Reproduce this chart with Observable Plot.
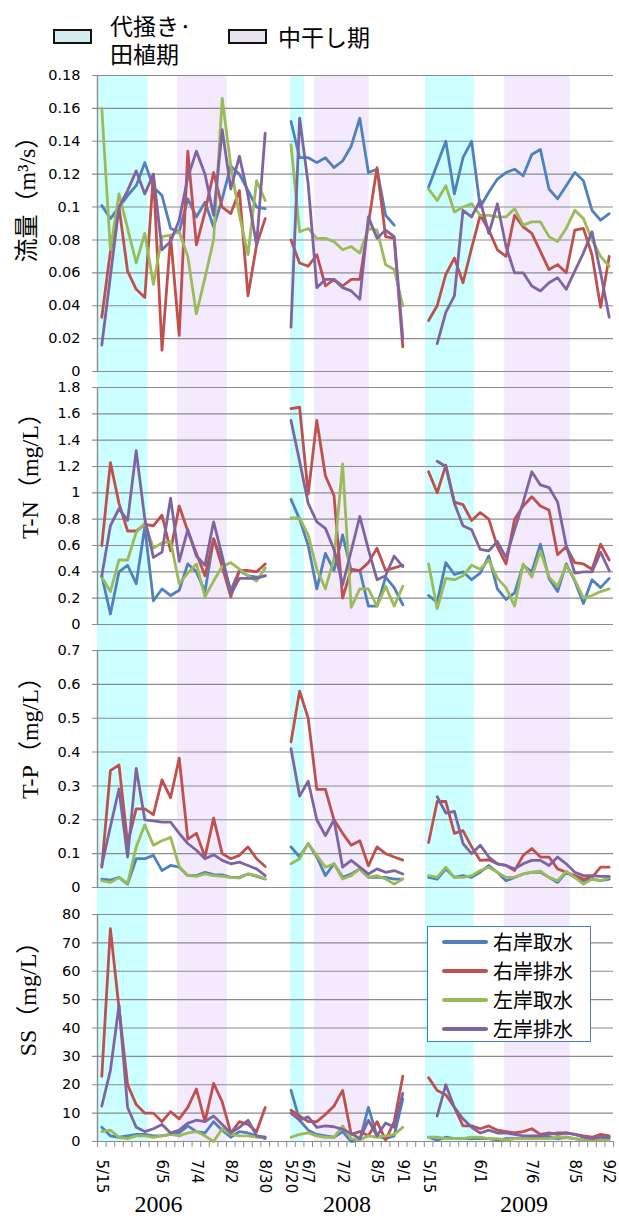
<!DOCTYPE html>
<html><head><meta charset="utf-8">
<script src="https://cdn.jsdelivr.net/npm/d3@7"></script>
<script src="https://cdn.jsdelivr.net/npm/@observablehq/plot@0.6"></script>
<style>
body{margin:0;background:#fff;}
#wrap{position:relative;width:619px;height:1216px;overflow:hidden;font-family:"Noto Sans CJK JP",sans-serif;color:#000;}
#wrap svg{overflow:visible;}
</style></head><body><div id="wrap"></div>
<script>
// ---------- data ----------
const seriesNames = ["右岸取水", "右岸排水", "左岸取水", "左岸排水"];
const seriesColors = ["#4F81BD", "#C0504D", "#9BBB59", "#8064A2"];
const periodNames = ["代掻き·\n田植期", "中干し期"];
const periodColors = ["#ccffff", "#f3ebfd"];
const periodSwatch = ["#d4ecf0", "#e8e3ef"];

// category positions: 2006 = 0..19, gap, 2008 = 22..35, gap, 2009 = 38..59
const nCategories = 60;
const tickPositions = [0, 7, 11, 15, 19, 22, 24, 28, 32, 35, 38, 44, 50, 55, 59];
const tickLabels = ["5/15", "6/5", "7/4", "8/2", "8/30", "5/20", "6/7", "7/2", "8/5", "9/1", "5/15", "6/1", "7/6", "8/5", "9/2"];
const yearLabels = ["2006", "2008", "2009"];
const yearPositions = [6.6, 28.5, 49.1];

// shaded periods (category units)
const plantStart = [-0.5, 21.95, 37.65];
const plantEnd = [5.4, 23.55, 43.3];
const dryStart = [8.8, 24.75, 46.85];
const dryEnd = [14.6, 31.1, 54.5];

// 流量 (m3/s)
const flowRI = [0.101,0.093,0.100,0.107,0.113,0.127,0.112,0.107,0.087,0.085,0.105,0.094,0.103,0.088,0.105,0.125,0.120,0.110,0.100,0.099, null,null,
  0.152,0.130,0.130,0.127,0.130,0.124,0.128,0.137,0.154,0.121,0.123,0.095,0.089,null, null,null,
  0.112,0.126,0.140,0.108,0.130,0.140,0.100,0.109,0.117,0.121,0.123,0.119,0.132,0.135,0.111,0.105,0.113,0.121,0.116,0.098,0.092,0.096];
const flowRD = [0.033,0.073,0.100,0.061,0.050,0.045,0.120,0.013,0.082,0.022,0.134,0.077,0.097,0.121,0.100,0.096,0.110,0.046,0.077,0.093, null,null,
  0.080,0.066,0.064,0.071,0.052,0.056,0.052,0.056,0.056,0.090,0.124,0.082,0.081,0.015, null,null,
  0.031,0.040,0.059,0.069,0.054,0.075,0.095,0.086,0.074,0.070,0.095,0.088,0.084,0.073,0.062,0.065,0.060,0.086,0.087,0.071,0.039,0.070];
const flowLI = [0.160,0.074,0.108,0.087,0.066,0.084,0.053,0.082,0.083,0.085,0.070,0.035,0.057,0.080,0.166,0.125,0.095,0.071,0.116,0.104, null,null,
  0.138,0.085,0.087,0.081,0.081,0.079,0.074,0.076,0.072,0.087,0.086,0.065,0.062,0.040, null,null,
  0.111,0.104,0.113,0.097,0.100,0.102,0.095,0.095,0.094,0.094,0.099,0.089,0.091,0.091,0.082,0.079,0.087,0.098,0.093,0.080,0.070,0.064];
const flowLD = [0.016,0.058,0.100,0.110,0.122,0.108,0.120,0.074,0.079,0.092,0.118,0.134,0.120,0.095,0.147,0.111,0.131,0.107,0.077,0.145, null,null,
  0.027,0.154,0.114,0.051,0.056,0.056,0.051,0.049,0.044,0.094,0.081,0.086,0.082,0.020, null,null,
  null,0.017,0.036,0.046,0.098,0.094,0.104,0.084,0.102,0.076,0.060,0.060,0.052,0.049,0.054,0.057,0.050,0.061,0.072,0.085,0.060,0.033];

// T-N (mg/L)
const tnRI = [0.37,0.08,0.40,0.45,0.31,0.74,0.18,0.27,0.22,0.26,0.46,0.40,0.25,0.65,0.48,0.26,0.41,0.37,0.36,0.37, null,null,
  0.95,0.80,0.60,0.27,0.54,0.41,0.68,0.41,0.41,0.14,0.14,0.36,0.28,0.15, null,null,
  0.22,0.17,0.47,0.38,0.40,0.34,0.39,0.52,0.27,0.19,0.24,0.45,0.40,0.61,0.35,0.25,0.46,0.33,0.16,0.34,0.28,0.35];
const tnRD = [0.60,1.23,0.92,0.71,0.71,0.76,0.75,0.83,0.56,0.90,0.71,0.54,0.37,0.65,0.44,0.21,0.41,0.41,0.40,0.46, null,null,
  1.64,1.65,0.99,1.55,1.13,0.98,0.20,0.42,0.41,0.47,0.58,0.41,0.43,0.45, null,null,
  1.16,1.00,1.21,0.93,0.91,0.79,0.85,0.80,0.59,0.46,0.80,0.90,0.97,0.90,0.87,0.53,0.59,0.47,0.46,0.42,0.61,0.49];
const tnLI = [0.36,0.25,0.49,0.49,0.70,0.77,0.58,0.62,0.63,0.31,0.39,0.46,0.21,0.33,0.44,0.47,0.42,0.37,0.33,0.43, null,null,
  0.81,0.81,0.68,0.42,0.27,0.50,1.22,0.13,0.27,0.27,0.14,0.29,0.14,0.29, null,null,
  0.46,0.12,0.35,0.34,0.37,0.45,0.42,0.49,0.35,0.28,0.14,0.46,0.36,0.56,0.36,0.29,0.45,0.34,0.20,0.22,0.25,0.27];
const tnLD = [0.37,0.75,0.88,0.79,1.32,0.80,0.51,0.55,0.96,0.48,0.72,0.52,0.45,0.78,0.52,0.23,0.35,0.35,0.35,0.37, null,null,
  1.55,1.24,0.92,0.78,0.73,0.57,0.30,0.56,0.82,0.57,0.34,0.37,0.52,0.44, null,null,
  null,1.24,1.20,0.92,0.75,0.72,0.57,0.56,0.63,0.51,0.72,0.93,1.16,1.06,1.04,0.93,0.60,0.39,0.40,0.40,0.55,0.41];

// T-P (mg/L)
const tpRI = [0.025,0.022,0.030,0.010,0.085,0.085,0.095,0.050,0.065,0.060,0.035,0.035,0.045,0.038,0.037,0.030,0.030,0.040,0.033,0.025, null,null,
  0.120,0.090,0.130,0.090,0.035,0.070,0.030,0.040,0.055,0.030,0.030,0.030,0.025,0.025, null,null,
  0.030,0.025,0.055,0.030,0.035,0.030,0.045,0.065,0.045,0.020,0.030,0.040,0.045,0.045,0.030,0.015,0.045,0.030,0.020,0.025,0.020,0.025];
const tpRD = [0.060,0.345,0.362,0.130,0.232,0.232,0.215,0.318,0.265,0.382,0.143,0.160,0.090,0.205,0.100,0.085,0.095,0.120,0.085,0.062, null,null,
  0.430,0.580,0.500,0.290,0.290,0.200,0.160,0.125,0.138,0.064,0.120,0.100,0.090,0.081, null,null,
  0.133,0.254,0.254,0.160,0.168,0.120,0.080,0.082,0.070,0.065,0.050,0.095,0.115,0.090,0.090,0.055,0.045,0.035,0.025,0.030,0.060,0.060];
const tpLI = [0.020,0.015,0.030,0.012,0.120,0.185,0.125,0.138,0.148,0.062,0.035,0.033,0.040,0.035,0.033,0.030,0.028,0.040,0.035,0.025, null,null,
  0.070,0.085,0.130,0.095,0.060,0.070,0.025,0.035,0.055,0.030,0.035,0.025,0.010,0.025, null,null,
  0.035,0.030,0.060,0.030,0.030,0.035,0.050,0.060,0.045,0.030,0.030,0.040,0.045,0.048,0.030,0.020,0.048,0.030,0.010,0.025,0.020,0.030];
const tpLD = [0.065,0.180,0.291,0.090,0.352,0.200,0.197,0.193,0.193,0.160,0.130,0.110,0.085,0.097,0.080,0.070,0.075,0.065,0.055,0.035, null,null,
  0.410,0.270,0.314,0.200,0.153,0.200,0.060,0.080,0.060,0.040,0.055,0.045,0.050,0.040, null,null,
  null,0.268,0.220,0.225,0.130,0.100,0.125,0.090,0.070,0.065,0.055,0.070,0.080,0.080,0.065,0.090,0.070,0.045,0.035,0.035,0.033,0.033];

// SS (mg/L)
const ssRI = [5,2,1.5,2,2.5,2.5,2,2,2.5,3,5.5,3.5,3,7,4,1.5,3.5,3,2,1, null,null,
  18,7.5,4,2.5,2,1.5,3.5,0,0.5,12,2,1,2,15, null,null,
  1.5,0.5,1.5,1,1,1,1,1,0.5,1,1,1,1,1.5,1.5,1,1.5,1,0.5,0.5,0.5,1];
const ssRD = [23,75,47,20,13,10,10,7,10.5,8,12,18.5,7,20.5,14,3,7,6,3.5,12, null,null,
  11,9,7,7,9.5,12.5,18,2.5,3.5,2,7,0.5,7,23, null,null,
  22.5,18,16.5,12,5.5,5.5,4.5,5.5,4,3.5,3,3.5,4.5,2.5,3,2.5,3,2.5,2,1.5,2.5,2];
const ssLI = [3.5,4,1.5,1,2,2,1.5,2,2.5,2,3,3.5,2,0,4.5,2.5,2,2,1.5,1.5, null,null,
  1.5,2.5,3,2,1.5,1.5,5.5,1,0.5,2,1.5,2,2.5,5, null,null,
  1.5,1.5,1,1,1,1.5,1.5,1,1,0.5,1,1,1,1,1,1.5,1.5,1,0.5,0.5,0.5,0.5];
const ssLD = [12.5,25,48,12,5,3.5,4.5,6,3,4,6.5,7.5,7,9,6,3,5,7.5,2,1.5, null,null,
  10,7.5,8.7,5,5.5,5.2,4.3,2.8,1,7.5,2,6.5,5,17, null,null,
  null,9,20,12,8,5,3,4,3,3,2.5,2,2,2,2.5,3,3,2.5,1.5,1,1.5,1.5];

const flowTicks = [0, 0.02, 0.04, 0.06, 0.08, 0.1, 0.12, 0.14, 0.16, 0.18];
const tnTicks = [0, 0.2, 0.4, 0.6, 0.8, 1, 1.2, 1.4, 1.6, 1.8];
const tpTicks = [0, 0.1, 0.2, 0.3, 0.4, 0.5, 0.6, 0.7];
const ssTicks = [0, 10, 20, 30, 40, 50, 60, 70, 80];

// ---------- drawing ----------
const wrap = document.getElementById("wrap");
const W = 619, ML = 97, MR = 6;
const idx = d3.range(nCategories);
const xDomain = [-0.5, nCategories - 0.5];
const gridColor = "#8c8c8c";
const sansFont = "DejaVu Sans, sans-serif";
const serifFont = "'Liberation Serif', 'Noto Sans CJK JP', serif";
const baseStyle = {background: "transparent", color: "#000", fontFamily: sansFont, overflow: "visible"};

function place(el, top) {
  el.style.position = "absolute";
  el.style.left = "0px";
  el.style.top = top + "px";
  wrap.appendChild(el);
}

// background period bands, spanning all four panels
place(Plot.plot({
  width: W, height: 1216, marginTop: 75, marginBottom: 75, marginLeft: ML, marginRight: MR,
  x: {domain: xDomain, axis: null},
  style: baseStyle,
  marks: [
    Plot.rect(d3.range(plantStart.length), {x1: i => plantStart[i], x2: i => plantEnd[i], fill: periodColors[0]}),
    Plot.rect(d3.range(dryStart.length), {x1: i => dryStart[i], x2: i => dryEnd[i], fill: periodColors[1]})
  ]
}), 0);

function panel(cfg) {
  const lines = cfg.series.map((vals, s) => Plot.line(idx, {
    x: i => i, y: i => (vals[i] == null ? NaN : vals[i]),
    stroke: seriesColors[s], strokeWidth: 2.8, strokeLinejoin: "round", strokeLinecap: "round"
  }));
  const marks = [
    Plot.ruleY(cfg.ticks, {stroke: gridColor, strokeWidth: 1.1, insetLeft: -5}),
    Plot.ruleX([xDomain[0]], {stroke: gridColor, strokeWidth: 1.4}),
    Plot.axisY(cfg.ticks, {tickSize: 0, tickPadding: 17, tickFormat: d => String(d), fontSize: 14.5}),
    ...lines,
    Plot.text([cfg.title], {text: d => d, frameAnchor: "left", rotate: -90, dx: cfg.tdx, dy: cfg.tdy,
      fontSize: 24, fontFamily: serifFont, textAnchor: "middle", lineAnchor: "middle"}),
    ...(cfg.extra || [])
  ];
  place(Plot.plot({
    width: W, height: cfg.height, marginTop: cfg.mt, marginBottom: cfg.mb, marginLeft: ML, marginRight: MR,
    x: cfg.extra ? {domain: xDomain} : {domain: xDomain, axis: null},
    y: {domain: cfg.domain},
    style: baseStyle,
    marks
  }), cfg.top);
}

panel({top: 60, height: 320, mt: 15, mb: 9, domain: [0, 0.18], ticks: flowTicks,
  series: [flowRI, flowRD, flowLI, flowLD], title: "流量（m³/s）", tdx: -70, tdy: -30});
panel({top: 380, height: 250, mt: 7, mb: 6, domain: [0, 1.8], ticks: tnTicks,
  series: [tnRI, tnRD, tnLI, tnLD], title: "T-N（mg/L）", tdx: -67, tdy: -36});
panel({top: 630, height: 270, mt: 20, mb: 13, domain: [0, 0.7], ticks: tpTicks,
  series: [tpRI, tpRD, tpLI, tpLD], title: "T-P（mg/L）", tdx: -67, tdy: -37});
panel({top: 900, height: 316, mt: 14, mb: 75, domain: [0, 80], ticks: ssTicks,
  series: [ssRI, ssRD, ssLI, ssLD], title: "SS（mg/L）", tdx: -69, tdy: -35,
  extra: [
    Plot.axisX(d3.range(nCategories + 1).map(k => k - 0.5), {tickSize: 6, tickFormat: () => "", stroke: gridColor, label: null}),
    Plot.text(tickPositions, {x: d => d, text: (d, i) => tickLabels[i], frameAnchor: "bottom", rotate: 90,
      textAnchor: "start", lineAnchor: "middle", dy: 18, fontSize: 15, fontFamily: sansFont}),
    Plot.text(yearLabels, {x: (d, i) => yearPositions[i], text: d => d, frameAnchor: "bottom", dy: 63,
      fontSize: 24, fontFamily: serifFont, lineAnchor: "middle"})
  ]});

// ---------- period legend (top) ----------
const topLegend = document.createElement("div");
topLegend.style.cssText = "position:absolute;left:0;top:0;width:619px;height:70px;";
const swatchLeft = [53, 228], textLeft = [110, 278];
periodNames.forEach((name, i) => {
  const sw = document.createElement("div");
  sw.style.cssText = `position:absolute;left:${swatchLeft[i]}px;top:29px;width:35px;height:11px;border:2px solid #111;background:${periodSwatch[i]};`;
  topLegend.appendChild(sw);
  const tx = document.createElement("div");
  const lines = name.split("\n");
  tx.style.cssText = `position:absolute;left:${textLeft[i]}px;top:${lines.length > 1 ? 11 : 22}px;font-size:23px;line-height:28px;white-space:pre;font-family:'Noto Sans CJK JP',sans-serif;`;
  tx.textContent = name;
  topLegend.appendChild(tx);
});
wrap.appendChild(topLegend);

// ---------- series legend (inside SS panel) ----------
const box = document.createElement("div");
box.style.cssText = "position:absolute;left:427px;top:926px;width:162px;height:114px;background:#fff;border:1.5px solid #4a7ebb;";
seriesNames.forEach((name, i) => {
  const row = document.createElement("div");
  row.style.cssText = `position:absolute;left:14px;top:${i * 29.1}px;height:29px;display:flex;align-items:center;`;
  row.innerHTML = `<svg width="46" height="8" style="display:block"><line x1="2" y1="4" x2="44" y2="4" stroke="${seriesColors[i]}" stroke-width="4" stroke-linecap="round"/></svg>` +
    `<span style="margin-left:5px;font-size:20px;line-height:29px;font-family:'Noto Sans CJK JP',sans-serif;">${name}</span>`;
  box.appendChild(row);
});
wrap.appendChild(box);
</script></body></html>
